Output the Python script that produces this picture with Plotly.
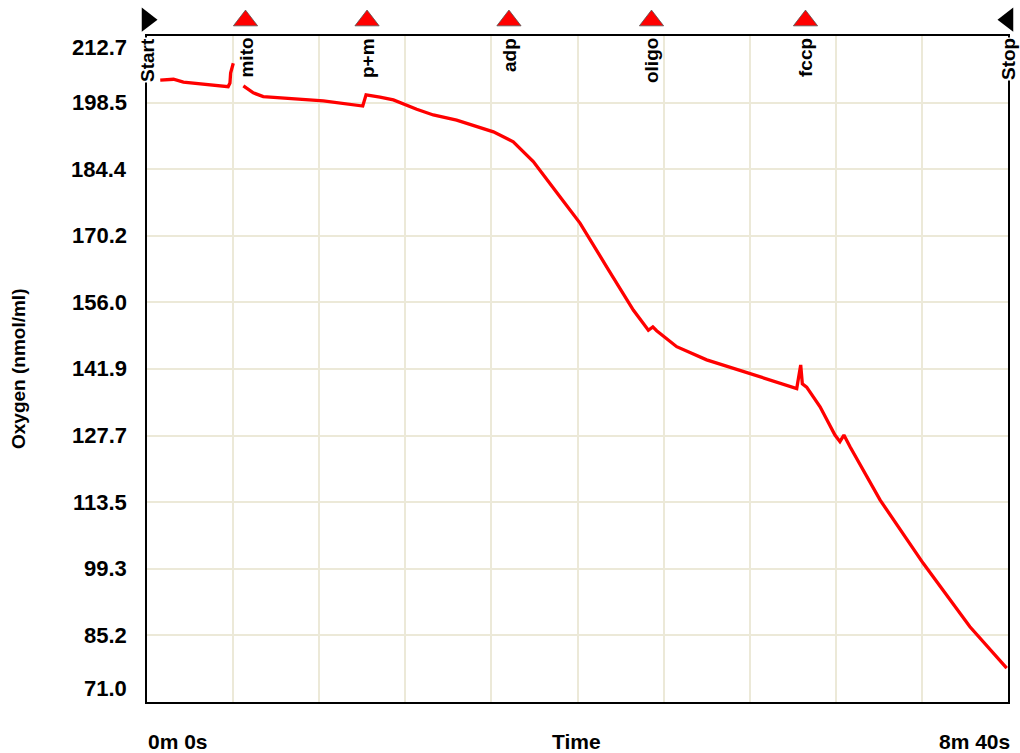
import plotly.graph_objects as go

# ---- data ----
time_s = [8, 16, 22, 36, 49, 50.1, 50.5, 52.1, None, 58.2, 64.2, 70.2, 86.4, 106.5, 130.3, 132.3,
          140.7, 148.8, 162.9, 172.9, 187.0, 209.2, 221.2, 233.3, 249.4, 261.5, 277.6, 293.7,
          302.8, 305.5, 307.8, 311.8, 319.9, 338.0, 364.2, 392.4, 394.8, 395.8, 398.4, 406.5,
          415.5, 418.5, 420.9, 424.6, 442.7, 468.8, 497.0, 519.2]
oxygen = [203.3, 203.5, 202.9, 202.4, 201.9, 202.7, 204.8, 206.9, None, 202.1, 200.6, 199.8, 199.4,
          198.9, 197.8, 200.2, 199.7, 199.1, 197.1, 195.9, 194.8, 192.3, 190.2, 186.0, 178.5,
          172.9, 163.6, 154.4, 150.1, 150.8, 150.0, 148.9, 146.6, 143.8, 140.8, 137.7, 142.7,
          138.7, 138.0, 133.8, 127.8, 126.4, 127.8, 125.3, 114.0, 100.5, 87.0, 78.2]

event_names = ["mito", "p+m", "adp", "oligo", "fccp"]
event_times = [59.5, 132.9, 218.6, 304.7, 397.7]
run_labels = ["Start", "Stop"]
run_times = [0, 520]

y_ticks = [71.0, 85.2, 99.3, 113.5, 127.7, 141.9, 156.0, 170.2, 184.4, 198.5, 212.7]
y_min, y_max = 71.0, 212.7
x_min, x_max = 0, 520
x_labels = ["0m 0s", "Time", "8m 40s"]

# ---- figure ----
W, H = 1020, 753
ml, mr, mt, mb = 147, 12, 4, 51
area_h = H - mt - mb
main_top = (area_h - (36 - mt)) / area_h  # main plot top edge at 36 px

GRID = "#ECE9D8"
FONT = "Liberation Sans, Arial, sans-serif"

fig = go.Figure()
fig.add_trace(go.Scatter(x=time_s, y=oxygen, mode="lines",
                         line=dict(color="#FF0000", width=3.3), connectgaps=False,
                         hoverinfo="skip", showlegend=False))
fig.add_trace(go.Scatter(x=event_times, y=[0.47] * len(event_times), mode="markers",
                         xaxis="x2", yaxis="y2",
                         marker=dict(symbol="triangle-up", size=21, color="#FF0000",
                                     line=dict(color="#555555", width=0.8)),
                         hoverinfo="skip", showlegend=False))
fig.add_trace(go.Scatter(x=run_times, y=[0.5] * 2, mode="markers",
                         xaxis="x2", yaxis="y2",
                         marker=dict(symbol=["triangle-right", "triangle-left"], size=21,
                                     color="black"),
                         cliponaxis=False, hoverinfo="skip", showlegend=False))

ann = []
for name, t in zip(event_names + run_labels, event_times + run_times):
    ann.append(dict(x=t, y=y_max, xref="x", yref="y", text=name, showarrow=False,
                    textangle=-90, xanchor="center", yanchor="top", yshift=-1,
                    bgcolor="white", borderpad=0,
                    font=dict(family=FONT, size=19, color="black", weight="bold")))
for i, v in enumerate(y_ticks):
    shift = 0
    if i == len(y_ticks) - 1:
        shift = -11
    elif i == 0:
        shift = 14
    ann.append(dict(x=0, y=v, xref="paper", yref="y", text=f"{v:.1f}", showarrow=False,
                    xanchor="right", yanchor="middle", xshift=-18, yshift=shift,
                    font=dict(family=FONT, size=22, color="black", weight="bold")))
ann.append(dict(x=0, y=y_min + (y_max - y_min) / 2, xref="paper", yref="y",
                text="Oxygen (nmol/ml)",
                showarrow=False, textangle=-90, xanchor="center", yanchor="middle",
                xshift=-129, font=dict(family=FONT, size=19, color="black", weight="bold")))
for lab, xp, xa in zip(x_labels, [0, 0.5, 1], ["left", "center", "right"]):
    ann.append(dict(x=xp, y=0, xref="paper", yref="paper", text=lab, showarrow=False,
                    xanchor=xa, yanchor="middle", yshift=-39,
                    xshift=(4 if xa == "right" else -1),
                    font=dict(family=FONT, size=21, color="black", weight="bold")))

fig.update_layout(
    width=W, height=H, margin=dict(l=ml, r=mr, t=mt, b=mb),
    paper_bgcolor="white", plot_bgcolor="white",
    annotations=ann,
    xaxis=dict(range=[x_min, x_max], dtick=52, tick0=0, showgrid=True, gridcolor=GRID,
               gridwidth=2, showticklabels=False, ticks="", zeroline=False,
               showline=True, linecolor="black", linewidth=2, mirror=True, fixedrange=True),
    yaxis=dict(range=[y_min, y_max], tickvals=y_ticks, showgrid=True, gridcolor=GRID,
               gridwidth=2, showticklabels=False, ticks="", zeroline=False,
               domain=[0, main_top],
               showline=True, linecolor="black", linewidth=2, mirror=True, fixedrange=True),
    xaxis2=dict(range=[x_min, x_max], anchor="y2", visible=False, fixedrange=True),
    yaxis2=dict(range=[0, 1], domain=[main_top + 0.001, 1], anchor="x2", visible=False,
                fixedrange=True),
)

fig.write_html("out.html", config={"displayModeBar": False},
               post_script=["document.body.style.margin='0';"
                            "document.body.style.overflow='hidden';"])
